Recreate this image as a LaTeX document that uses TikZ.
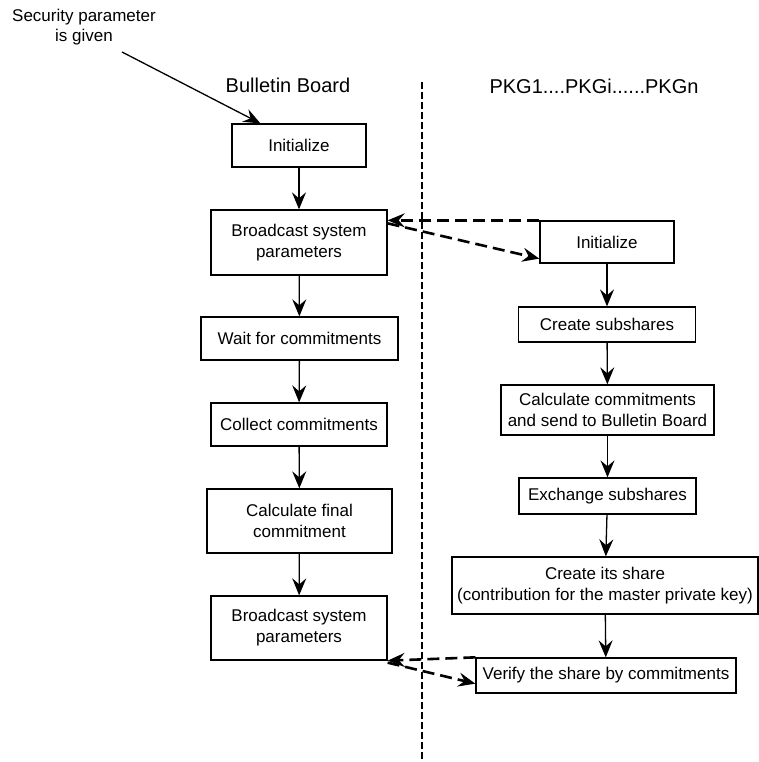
\documentclass[tikz,border=0pt]{standalone}
\usepackage{fontspec}
\setmainfont{Liberation Sans}
\usetikzlibrary{arrows.meta, positioning}

\begin{document}
\begin{tikzpicture}[x=0.5pt, y=-0.5pt,
  box/.style={draw, line width=0.65pt, align=center, inner sep=0pt,
    font=\fontsize{8.5}{10.5}\selectfont},
  title/.style={font=\fontsize{10}{12}\selectfont},
  flow/.style={-{Stealth[length=8.5pt,width=7pt,inset=3pt]}, line width=0.65pt},
  msg/.style={flow, line width=1.3pt, dash pattern=on 6pt off 3pt}]
\useasboundingbox (0,0) rectangle (759,762);

% Titles
\node[font=\fontsize{8.5}{10}\selectfont, align=center] (secText) at (84,27) {Security parameter\\is given};
\node[title] (bbTitle) at (288,85) {Bulletin Board};
\node[title] (pkgTitle) at (594,86) {PKG1....PKGi......PKGn};

% Divider
\coordinate (divTop) at (422,82);
\coordinate (divBot) at (422,762);
\draw[line width=0.6pt, dash pattern=on 3.5pt off 1.5pt] (divTop) -- (divBot);

% Bulletin board side
\node[box, minimum width=67pt, minimum height=21.5pt] (initL) at (299,145.5) {Initialize};
\node[box, minimum width=88pt, minimum height=32.5pt] (bcastA) at (299,242.5) {Broadcast system\\parameters};
\node[box, minimum width=98.5pt, minimum height=21.5pt] (wait) at (299.5,338.5) {Wait for commitments};
\node[box, minimum width=88pt, minimum height=21.5pt] (collect) at (299,424.5) {Collect commitments};
\node[box, minimum width=92.5pt, minimum height=32pt] (calcFinal) at (299.5,521) {Calculate final\\commitment};
\node[box, minimum width=88pt, minimum height=32pt] (bcastB) at (299,628) {Broadcast system\\parameters};

% PKG side
\node[box, minimum width=67pt, minimum height=21pt] (initR) at (607,242) {Initialize};
\node[box, minimum width=88.5pt, minimum height=17.5pt] (subshares) at (607,324.5) {Create subshares};
\node[box, minimum width=106.5pt, minimum height=25pt] (calcCom) at (607.5,410) {Calculate commitments\\and send to Bulletin Board};
\node[box, minimum width=88.5pt, minimum height=18pt] (exchange) at (607.5,496) {Exchange subshares};
\node[box, minimum width=153pt, minimum height=28.5pt] (share) at (605,585.5) {Create its share\\(contribution for the master private key)};
\node[box, minimum width=130pt, minimum height=17.5pt] (verify) at (606,675.5) {Verify the share by commitments};

% Flow
\draw[flow] ([xshift=19pt]secText.south) -- ([xshift=14.5pt]initL.north west);
\draw[flow] (initL) -- (bcastA);
\draw[flow] (bcastA) -- (wait);
\draw[flow] (wait) -- (collect);
\draw[flow] (collect) -- (calcFinal);
\draw[flow] (calcFinal) -- (bcastB);
\draw[flow] (initR) -- (subshares);
\draw[flow] (subshares) -- (calcCom);
\draw[flow] (calcCom) -- (exchange);
\draw[flow] (exchange) -- (share);
\draw[flow] (share) -- (verify);

% Messages between the two sides
\draw[msg] (initR.north west) -- (initR.north west -| bcastA.east);
\draw[msg] ([yshift=-1.5pt]initR.north west -| bcastA.east) -- ([yshift=2.5pt]initR.south west);
\draw[msg] (verify.north west) -- (bcastB.south east);
\draw[msg] ([yshift=-1pt]bcastB.south east) -- ([yshift=5pt]verify.south west);

\end{tikzpicture}
\end{document}
